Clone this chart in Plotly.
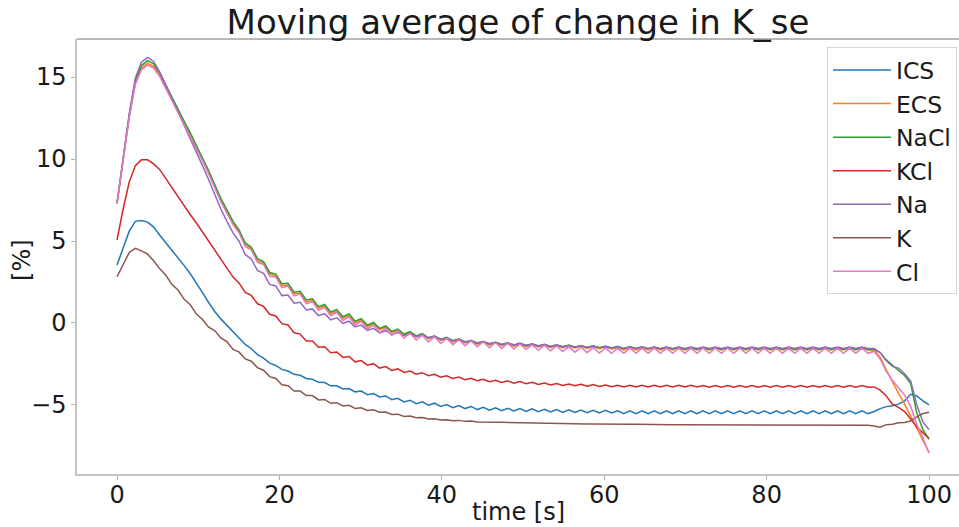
import numpy as np
import plotly.graph_objects as go

# Sample times of the moving average (s)
time_s = np.linspace(0, 100, 134)

ics = [
    3.54, 4.6, 5.6, 6.2, 6.25, 6.15, 5.85, 5.35, 4.9, 4.45,
    4.0, 3.5, 3.0, 2.45, 1.85, 1.25, 0.7, 0.25, -0.15, -0.55,
    -0.89, -1.31, -1.57, -1.93, -2.14, -2.45, -2.59, -2.83, -2.93, -3.13,
    -3.19, -3.38, -3.43, -3.62, -3.63, -3.83, -3.83, -4.02, -4.00, -4.20,
    -4.15, -4.37, -4.30, -4.51, -4.45, -4.68, -4.59, -4.81, -4.71, -4.92,
    -4.81, -5.01, -4.89, -5.09, -4.97, -5.16, -5.03, -5.22, -5.09, -5.28,
    -5.14, -5.32, -5.17, -5.35, -5.20, -5.37, -5.22, -5.39, -5.24, -5.41,
    -5.26, -5.43, -5.28, -5.45, -5.30, -5.46, -5.31, -5.47, -5.32, -5.48,
    -5.33, -5.49, -5.36, -5.53, -5.36, -5.53, -5.36, -5.53, -5.36, -5.53,
    -5.36, -5.53, -5.36, -5.53, -5.36, -5.53, -5.36, -5.53, -5.36, -5.53,
    -5.36, -5.53, -5.36, -5.53, -5.36, -5.53, -5.36, -5.53, -5.36, -5.53,
    -5.36, -5.53, -5.36, -5.53, -5.36, -5.53, -5.36, -5.53, -5.36, -5.53,
    -5.36, -5.53, -5.36, -5.53,
    -5.40, -5.22, -5.10, -5.05, -4.95, -4.75, -4.35, -4.45, -4.75, -5.00,
]

ecs = [
    7.3, 9.95, 12.6, 14.65, 15.55, 15.83, 15.65, 15.12, 14.4, 13.65,
    12.95, 12.2, 11.5, 10.75, 10.0, 9.2, 8.35, 7.5, 6.8, 6.1,
    5.57, 4.78, 4.52, 3.83, 3.64, 2.98, 2.88, 2.29, 2.32, 1.78,
    1.83, 1.30, 1.38, 0.90, 1.03, 0.57, 0.72, 0.28, 0.45, 0.01,
    0.17, -0.23, -0.05, -0.41, -0.25, -0.58, -0.44, -0.73, -0.59, -0.85,
    -0.70, -0.96, -0.83, -1.06, -0.93, -1.15, -1.02, -1.22, -1.10, -1.29,
    -1.16, -1.34, -1.21, -1.37, -1.25, -1.41, -1.28, -1.44, -1.32, -1.46,
    -1.35, -1.49, -1.38, -1.51, -1.40, -1.53, -1.42, -1.55, -1.44, -1.57,
    -1.46, -1.59, -1.50, -1.64, -1.50, -1.64, -1.50, -1.64, -1.50, -1.64,
    -1.50, -1.64, -1.50, -1.64, -1.50, -1.64, -1.50, -1.64, -1.50, -1.64,
    -1.50, -1.64, -1.50, -1.64, -1.50, -1.64, -1.50, -1.64, -1.50, -1.64,
    -1.50, -1.64, -1.50, -1.64, -1.50, -1.64, -1.50, -1.64, -1.50, -1.64,
    -1.50, -1.64, -1.50, -1.64,
    -1.65, -2.10, -2.85, -3.60, -4.30, -4.95, -5.70, -6.50, -7.20, -7.90,
]

nacl = [
    7.3, 10.0, 12.7, 14.8, 15.7, 16.0, 15.8, 15.25, 14.5, 13.75,
    13.05, 12.3, 11.6, 10.85, 10.1, 9.3, 8.45, 7.6, 6.9, 6.2,
    5.67, 4.88, 4.62, 3.93, 3.74, 3.08, 2.98, 2.39, 2.42, 1.88,
    1.93, 1.40, 1.48, 1.00, 1.13, 0.67, 0.82, 0.38, 0.55, 0.11,
    0.26, -0.14, 0.03, -0.33, -0.18, -0.51, -0.37, -0.67, -0.53, -0.79,
    -0.65, -0.91, -0.78, -1.01, -0.88, -1.10, -0.97, -1.17, -1.05, -1.24,
    -1.11, -1.29, -1.16, -1.32, -1.20, -1.36, -1.23, -1.39, -1.27, -1.41,
    -1.30, -1.44, -1.33, -1.46, -1.35, -1.48, -1.37, -1.50, -1.39, -1.52,
    -1.41, -1.54, -1.42, -1.55, -1.44, -1.56, -1.45, -1.57, -1.46, -1.58,
    -1.47, -1.59, -1.48, -1.60, -1.49, -1.61, -1.49, -1.61, -1.49, -1.61,
    -1.49, -1.61, -1.49, -1.61, -1.49, -1.61, -1.49, -1.61, -1.50, -1.62,
    -1.50, -1.62, -1.50, -1.62, -1.50, -1.62, -1.50, -1.62, -1.50, -1.62,
    -1.50, -1.62, -1.50, -1.62,
    -1.60, -1.80, -2.25, -2.60, -2.90, -3.20, -3.70, -5.50, -6.50, -7.10,
]

kcl = [
    5.06, 6.95, 8.6, 9.6, 9.95, 9.95, 9.7, 9.35, 8.8, 8.25,
    7.7, 7.1, 6.6, 6.1, 5.55, 4.95, 4.4, 3.85, 3.3, 2.8,
    2.43, 1.87, 1.68, 1.17, 1.01, 0.53, 0.43, -0.04, -0.12, -0.60,
    -0.68, -1.10, -1.10, -1.48, -1.45, -1.82, -1.77, -2.10, -2.04, -2.37,
    -2.29, -2.57, -2.48, -2.75, -2.66, -2.89, -2.80, -3.02, -2.93, -3.12,
    -3.03, -3.22, -3.13, -3.31, -3.22, -3.38, -3.30, -3.46, -3.37, -3.52,
    -3.43, -3.58, -3.49, -3.63, -3.53, -3.67, -3.57, -3.71, -3.61, -3.75,
    -3.66, -3.78, -3.69, -3.81, -3.72, -3.83, -3.74, -3.85, -3.76, -3.87,
    -3.78, -3.89, -3.80, -3.90, -3.80, -3.90, -3.80, -3.90, -3.80, -3.90,
    -3.80, -3.90, -3.80, -3.90, -3.80, -3.90, -3.82, -3.92, -3.82, -3.92,
    -3.82, -3.92, -3.82, -3.92, -3.82, -3.92, -3.82, -3.92, -3.82, -3.92,
    -3.82, -3.92, -3.82, -3.92, -3.82, -3.92, -3.82, -3.92, -3.82, -3.92,
    -3.82, -3.92, -3.82, -3.92,
    -3.90, -4.10, -4.45, -4.95, -5.15, -5.40, -5.85, -6.35, -6.70, -7.03,
]

na = [
    7.3, 10.0, 12.75, 14.95, 15.9, 16.2, 15.95, 15.3, 14.5, 13.65,
    12.85, 12.05, 11.25, 10.45, 9.6, 8.75, 7.85, 6.95, 6.2, 5.5,
    4.97, 4.18, 3.90, 3.21, 3.03, 2.35, 2.26, 1.67, 1.71, 1.21,
    1.26, 0.80, 0.86, 0.45, 0.57, 0.19, 0.32, -0.03, 0.11, -0.24,
    -0.13, -0.45, -0.32, -0.60, -0.47, -0.70, -0.58, -0.78, -0.66, -0.83,
    -0.73, -0.89, -0.82, -0.97, -0.92, -1.06, -1.00, -1.14, -1.08, -1.21,
    -1.15, -1.25, -1.19, -1.29, -1.23, -1.33, -1.26, -1.36, -1.29, -1.39,
    -1.32, -1.42, -1.35, -1.44, -1.37, -1.46, -1.39, -1.48, -1.41, -1.50,
    -1.43, -1.51, -1.47, -1.55, -1.47, -1.55, -1.47, -1.55, -1.47, -1.55,
    -1.47, -1.55, -1.47, -1.55, -1.47, -1.55, -1.47, -1.55, -1.47, -1.55,
    -1.47, -1.55, -1.47, -1.55, -1.47, -1.55, -1.47, -1.55, -1.47, -1.55,
    -1.47, -1.55, -1.47, -1.55, -1.47, -1.55, -1.47, -1.55, -1.47, -1.55,
    -1.47, -1.55, -1.47, -1.55,
    -1.56, -1.80, -2.30, -2.65, -2.75, -3.10, -3.55, -5.00, -6.05, -6.50,
]

k = [
    2.82, 3.6, 4.3, 4.55, 4.4, 4.2, 3.8, 3.3, 2.91, 2.34,
    2.01, 1.44, 1.11, 0.54, 0.21, -0.26, -0.46, -0.91, -1.14, -1.61,
    -1.78, -2.19, -2.33, -2.72, -2.88, -3.27, -3.38, -3.77, -3.83, -4.15,
    -4.15, -4.43, -4.43, -4.69, -4.66, -4.90, -4.86, -5.06, -5.02, -5.21,
    -5.17, -5.33, -5.29, -5.44, -5.43, -5.58, -5.56, -5.70, -5.68, -5.78,
    -5.76, -5.86, -5.84, -5.91, -5.90, -5.96, -5.94, -6.00, -5.98, -6.04,
    -6.03, -6.04, -6.05, -6.06, -6.07, -6.08, -6.08, -6.09, -6.10, -6.11,
    -6.11, -6.12, -6.13, -6.13, -6.14, -6.15, -6.15, -6.16, -6.16, -6.17,
    -6.17, -6.18, -6.18, -6.18, -6.18, -6.18, -6.19, -6.19, -6.19, -6.19,
    -6.19, -6.20, -6.20, -6.20, -6.20, -6.20, -6.21, -6.21, -6.21, -6.21,
    -6.21, -6.22, -6.22, -6.22, -6.22, -6.22, -6.22, -6.22, -6.23, -6.23,
    -6.23, -6.23, -6.23, -6.23, -6.23, -6.23, -6.24, -6.24, -6.24, -6.24,
    -6.24, -6.24, -6.24, -6.24,
    -6.28, -6.36, -6.20, -6.18, -6.08, -6.07, -5.98, -5.72, -5.52, -5.45,
]

cl = [
    7.3, 9.9, 12.5, 14.55, 15.45, 15.73, 15.55, 15.03, 14.3, 13.55,
    12.85, 12.1, 11.4, 10.65, 9.9, 9.1, 8.25, 7.4, 6.7, 6.0,
    5.49, 4.66, 4.45, 3.70, 3.57, 2.85, 2.81, 2.16, 2.25, 1.65,
    1.76, 1.17, 1.31, 0.77, 0.96, 0.44, 0.65, 0.15, 0.38, -0.12,
    0.10, -0.38, -0.12, -0.58, -0.32, -0.76, -0.48, -0.92, -0.62, -1.04,
    -0.74, -1.15, -0.84, -1.25, -0.94, -1.32, -1.02, -1.39, -1.08, -1.45,
    -1.14, -1.51, -1.19, -1.55, -1.23, -1.59, -1.28, -1.62, -1.32, -1.66,
    -1.36, -1.70, -1.40, -1.74, -1.44, -1.78, -1.48, -1.81, -1.50, -1.83,
    -1.52, -1.85, -1.53, -1.85, -1.53, -1.85, -1.53, -1.85, -1.53, -1.85,
    -1.53, -1.85, -1.53, -1.85, -1.53, -1.85, -1.53, -1.85, -1.53, -1.85,
    -1.53, -1.85, -1.53, -1.85, -1.53, -1.85, -1.53, -1.85, -1.53, -1.85,
    -1.53, -1.85, -1.53, -1.85, -1.53, -1.85, -1.53, -1.85, -1.53, -1.85,
    -1.53, -1.85, -1.53, -1.85,
    -1.72, -2.20, -2.95, -3.50, -3.95, -4.40, -5.10, -6.20, -7.00, -7.95,
]

series_names = ["ICS", "ECS", "NaCl", "KCl", "Na", "K", "Cl"]
series_values = [ics, ecs, nacl, kcl, na, k, cl]
series_colors = ["#1f77b4", "#ff7f0e", "#2ca02c", "#d62728",
                 "#9467bd", "#8c564b", "#e377c2"]

x_ticks = [0, 20, 40, 60, 80, 100]
y_ticks = [-5, 0, 5, 10, 15]
y_tick_labels = ["\u22125", "0", "5", "10", "15"]

for vals in series_values:
    assert len(vals) == len(time_s), len(vals)

FONT = "DejaVu Sans"
TEXT = "#1a1a1a"
SIZE = 24

fig = go.Figure()
for name, vals, color in zip(series_names, series_values, series_colors):
    fig.add_trace(go.Scatter(
        x=time_s, y=vals, mode="lines", name=name, legendgroup=name,
        line=dict(color=color, width=1.5),
    ))

fig.update_layout(
    width=959, height=527,
    margin=dict(l=77, r=0, t=39, b=53),
    paper_bgcolor="white", plot_bgcolor="white",
    font=dict(family=FONT, size=SIZE, color=TEXT),
    title=dict(
        text="Moving average of change in K_se",
        font=dict(family=FONT, size=34, color=TEXT),
        x=0.5, xref="paper", xanchor="center",
        y=1 - 22 / 527, yref="container", yanchor="middle",
    ),
    showlegend=True,
    legend=dict(
        x=0.9977, y=0.981, xanchor="right", yanchor="top",
        bgcolor="rgba(255,255,255,0.8)", bordercolor="#d5d5d5", borderwidth=1,
        font=dict(family=FONT, size=23.5, color=TEXT),
        traceorder="grouped", tracegroupgap=0,
        itemwidth=58,
    ),
    xaxis=dict(
        range=[-4.93, 103.69], tickvals=x_ticks,
        ticks="outside", ticklen=4, tickcolor="#b0b0b0", tickwidth=1,
        ticklabelstandoff=-6,
        showline=True, linecolor="#c4c4c4", linewidth=1.5,
        showgrid=False, zeroline=False, automargin=False,
        tickfont=dict(family=FONT, size=SIZE, color=TEXT),
    ),
    yaxis=dict(
        range=[-9.21, 17.32], tickvals=y_ticks, ticktext=y_tick_labels,
        ticks="outside", ticklen=4, tickcolor="#b0b0b0", tickwidth=1,
        showline=True, linecolor="#c4c4c4", linewidth=1.5,
        showgrid=False, zeroline=False, automargin=False,
        tickfont=dict(family=FONT, size=SIZE, color=TEXT),
    ),
    annotations=[
        dict(text="time [s]", xref="paper", yref="paper", x=0.5, y=-0.0885,
             xanchor="center", yanchor="middle", showarrow=False,
             font=dict(family=FONT, size=SIZE, color=TEXT)),
        dict(text="[%]", xref="paper", yref="paper", x=-0.0624, y=0.492,
             xanchor="center", yanchor="middle", showarrow=False, textangle=-90,
             font=dict(family=FONT, size=SIZE, color=TEXT)),
    ],
    shapes=[dict(type="line", xref="paper", yref="paper", x0=0, x1=1, y0=1, y1=1,
                 line=dict(color="#707070", width=1))],
)

fig.write_html("out.html")
